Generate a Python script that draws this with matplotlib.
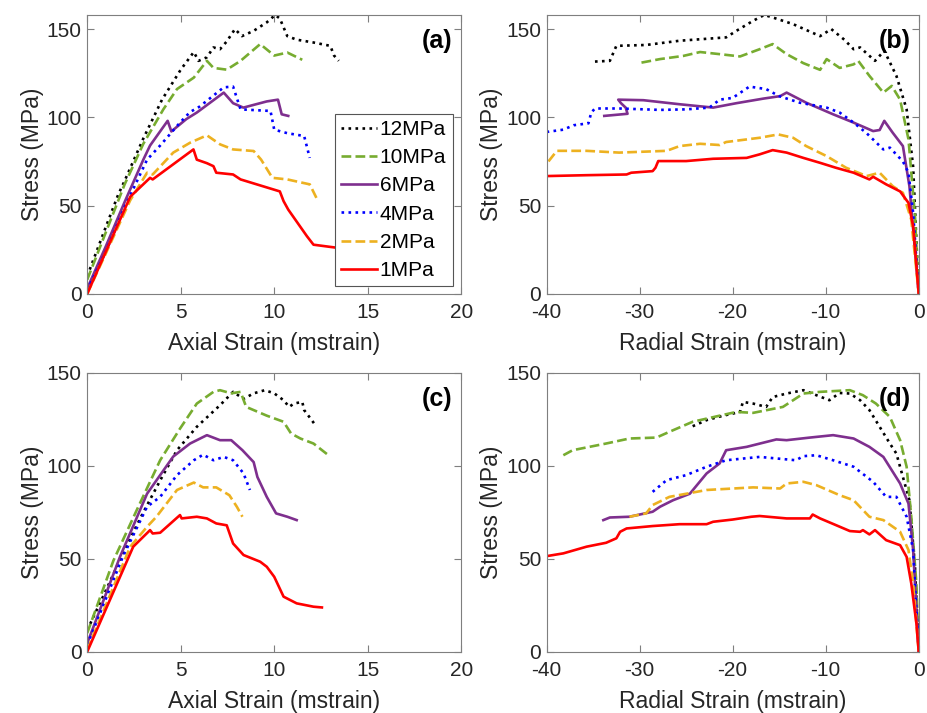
import matplotlib
matplotlib.use('Agg')
import matplotlib.pyplot as plt

plt.rcParams['font.family'] = ['Liberation Sans', 'DejaVu Sans']
plt.rcParams['axes.unicode_minus'] = False

labels = ['12MPa', '10MPa', '6MPa', '4MPa', '2MPa', '1MPa']
colors = ['#000000', '#77AC30', '#7E2F8E', '#0000FF', '#EDB120', '#FF0000']
styles = [':', '--', '-', ':', '--', '-']

# ---- panel (a): axial strain vs stress
a12_x = [0, 1, 1.65, 2, 3, 4, 5, 5.7, 5.95, 6.4, 6.75, 7.1, 7.46, 7.9, 8.27, 8.9, 9.6, 10.05, 10.3, 10.7, 11.2, 12.1, 13.0, 13.2, 13.45]
a12_y = [10, 38, 56, 64, 88, 110, 127, 137, 132, 134, 139.6, 138.6, 143, 150, 146, 149, 153.8, 158, 156, 146, 144, 142.4, 140.5, 135, 132]
a10_x = [0, 1, 2, 3, 4.07, 4.8, 5.7, 6.4, 6.75, 7.46, 8.2, 9.25, 10, 10.7, 11.5]
a10_y = [8, 35, 62, 85, 104.5, 116, 122.5, 132, 128, 127, 132, 141.5, 135, 136.7, 132.6]
a6_x = [0, 1, 2, 3, 3.36, 4.3, 4.5, 5.3, 5.86, 7.3, 7.8, 8.35, 9.6, 10.2, 10.4, 10.75]
a6_y = [3, 27, 52, 76, 84, 98, 92, 99, 102.7, 114, 108, 105.5, 109, 110, 101.7, 100.8]
a4_x = [0, 1, 2, 3.2, 3.9, 4.96, 5.5, 6.0, 7.3, 7.8, 8.2, 9.8, 10, 10.7, 11.6, 11.9]
a4_y = [2, 24, 49, 76, 84, 97, 103, 106, 117, 117.4, 104.5, 103.6, 93, 91, 89.4, 77]
a2_x = [0, 1, 2.3, 3.2, 3.5, 4.6, 5.5, 6.4, 7.1, 7.8, 8.9, 9.3, 9.9, 10.7, 11.9, 12.3]
a2_y = [0, 23, 53, 68.6, 67.6, 80, 85.6, 89.8, 84.7, 81.8, 80.9, 76, 65.7, 64.8, 62, 53.4]
a1_x = [0, 1, 2.3, 3.36, 3.5, 5.68, 5.86, 6.4, 6.75, 6.9, 7.8, 8.2, 10.3, 10.5, 10.75, 11.75, 12.1, 13.4]
a1_y = [0, 24, 55, 65.7, 64.8, 81.8, 76, 74, 72.3, 68.6, 67.6, 64.8, 58, 52.5, 47.7, 32.6, 27.8, 26]

# ---- panel (b): radial strain vs stress
b12_x = [-34.8, -33.2, -32.5, -29.3, -25.7, -20.7, -19.6, -17.8, -16.6, -15.7, -13.5, -10.6, -9.4, -8, -7, -6.3, -4.7, -3.7, -2.4, -1.3, -0.6, 0]
b12_y = [131.6, 132, 140.5, 141, 143.4, 145.3, 149, 154.7, 158, 156.6, 152.8, 146, 150, 144, 138.6, 139.6, 132, 137.7, 123.5, 104.5, 72, 0]
b10_x = [-29.8, -27.8, -25.3, -23.5, -21.4, -19.2, -17.1, -15.7, -14.2, -12.4, -10.6, -9.9, -8.5, -7, -6.5, -5.3, -3.8, -2.9, -2, -1.1, -0.4, 0]
b10_y = [131, 133, 134.8, 137, 135.8, 134.5, 138.6, 141.5, 135.8, 130.7, 126.9, 133, 128, 130, 132, 123.5, 114, 117.8, 110, 87.5, 44, 0]
b6_x = [-33.8, -31.3, -31.5, -32, -32.3, -29.6, -25.7, -22.1, -19.6, -16.7, -14.9, -14.2, -12.1, -9.2, -7, -4.9, -4.2, -3.7, -2.8, -1.7, -1, -0.25, 0]
b6_y = [100.8, 102, 105.5, 108, 110, 109.7, 107.4, 105.5, 108, 110.6, 112, 114, 108.3, 101.7, 97, 92.2, 92.8, 98, 91.3, 83.7, 61, 15.5, 0]
b4_x = [-40, -38.2, -37.1, -35.5, -35.2, -34.8, -32.2, -27.8, -25, -22.5, -21.4, -20, -18.2, -16.4, -15, -12.8, -9.9, -8.5, -7, -5.6, -3.8, -3.1, -1.7, -1.1, -0.6, 0]
b4_y = [91.7, 93, 95.5, 96.6, 102.7, 105, 105, 104.2, 104.5, 105.5, 110, 111, 117.4, 116, 112, 108.3, 105.5, 102.7, 97, 91, 81.8, 82.8, 75, 68.6, 45.8, 0]
b2_x = [-39.8, -38.9, -35.7, -32.2, -27.1, -25.7, -23.5, -21.4, -20.7, -17.1, -15.1, -13.5, -12.1, -9.9, -7.8, -5.6, -4.2, -2.8, -1.7, -0.8, 0]
b2_y = [75, 81, 81, 80, 81, 83.7, 85, 84.3, 86, 88.4, 90.3, 88.4, 83.7, 78, 71.4, 66.7, 68.6, 61, 57.2, 42, 0]
b1_x = [-40, -35.7, -31.4, -30.9, -28.6, -28.3, -28, -25, -22.1, -18.5, -17.1, -15.7, -14.2, -12.4, -10.6, -8.9, -7, -5.3, -4.9, -3.5, -2, -1.1, -0.6, 0]
b1_y = [66.7, 67.2, 67.6, 68.6, 69.5, 71.4, 75.2, 75.2, 76.5, 77, 79, 81.4, 80, 77, 74.2, 71.4, 68.6, 64.8, 66.3, 62, 58, 51.5, 38.3, 0]

# ---- panel (c): axial strain vs stress
c12_x = [0, 1, 2, 3, 4, 4.8, 5.86, 7.1, 7.8, 8.36, 8.9, 9.5, 10, 10.5, 10.8, 11.05, 11.5, 11.6, 11.9, 12.2]
c12_y = [11.6, 33, 55, 75, 94, 108.4, 121, 132.6, 139.8, 136, 139, 140.7, 139, 135.3, 131.7, 133.5, 134.4, 130, 126, 121.9]
c10_x = [0, 1.4, 2.64, 3.9, 4.96, 5.86, 6.75, 7.1, 7.7, 8.2, 8.5, 9.6, 10.5, 10.9, 11.4, 12.1, 12.9]
c10_y = [10, 49, 76, 103, 120, 133.5, 139.8, 140.7, 139, 139.8, 131.7, 127, 123.7, 117.4, 114.7, 112, 105.7]
c6_x = [0, 1.75, 3.2, 4.6, 5.5, 6.4, 7.1, 7.7, 8.3, 8.9, 9.1, 9.6, 10.1, 10.7, 11.2]
c6_y = [4.5, 51, 85, 105, 112, 116.5, 113.8, 113.8, 108.4, 102, 94, 83.3, 74.4, 72.6, 70.8]
c4_x = [0, 1.9, 3.2, 3.9, 4.8, 5.7, 6.2, 6.75, 7.3, 7.8, 8.36, 8.7]
c4_y = [3.6, 51, 78, 83.3, 95, 103, 106, 103, 104.8, 103, 95.9, 87]
c2_x = [0, 2.3, 3.2, 3.7, 4.8, 5.7, 6.2, 6.9, 7.6, 8.0, 8.3]
c2_y = [1, 56.5, 67.2, 72.6, 87, 91, 88.4, 88.4, 84.2, 78, 72.6]
c1_x = [0, 2.46, 3.36, 3.5, 3.9, 4.96, 5.05, 5.86, 6.4, 6.9, 7.46, 7.8, 8.36, 9.25, 9.6, 10, 10.5, 11.2, 12.1, 12.55]
c1_y = [0, 56.5, 65.4, 63.6, 64, 73.5, 71.7, 72.6, 71.7, 69, 68, 58.2, 52, 48.4, 45.7, 40.3, 29.6, 26, 24.2, 23.8]

# ---- panel (d): radial strain vs stress
d12_x = [-24.3, -22.8, -21, -19.2, -18.9, -17.8, -16.4, -15.7, -14.2, -12.4, -11, -9.6, -8.5, -7.4, -6.3, -5.3, -4.2, -3.1, -2.4, -1.7, -1, -0.4, 0]
d12_y = [121.3, 124.6, 127, 129, 134.4, 133.5, 131.7, 137, 138.9, 140.7, 138, 135.3, 139.2, 138.9, 135.3, 130, 121, 112, 106.6, 94, 81.5, 45.7, 0]
d10_x = [-38.2, -37.2, -33.6, -31.1, -28.2, -26.8, -24.3, -22.8, -19.6, -17.8, -14.6, -12.4, -10.6, -7.4, -6, -4.6, -3.1, -2, -1.3, -0.8, -0.25, 0]
d10_y = [105.7, 108.4, 112, 114.7, 115.2, 118.3, 123.7, 125.4, 129, 128.5, 131.7, 138.9, 139.8, 140.7, 138, 133.5, 126.3, 113.8, 99.5, 72.6, 36.7, 0]
d6_x = [-33.9, -33.2, -31.1, -28.6, -27.8, -26.4, -24.6, -22.8, -21.4, -20.7, -18.5, -15.3, -14.2, -11.7, -9.2, -7, -5.3, -3.8, -2, -1.1, -0.6, 0]
d6_y = [70.8, 72.2, 72.6, 75.3, 78, 81.5, 85, 95.9, 101.3, 108.4, 110.2, 114.2, 113.8, 115.2, 116.5, 114.7, 110.2, 104.8, 90.5, 79.7, 54.7, 0]
d4_x = [-28.6, -27.1, -25, -22.8, -20.7, -17.1, -13.2, -12.4, -11, -9.2, -7, -4.9, -3.5, -2.4, -1.3, -0.6, 0]
d4_y = [86, 92.3, 95, 99.5, 103, 104.8, 103, 105.2, 105.7, 103, 99.5, 91.4, 83.3, 83.3, 72.6, 54.7, 0]
d2_x = [-31.1, -29.3, -28.6, -26.8, -22.8, -17.8, -14.9, -14.2, -12.4, -11, -8.5, -7, -5.3, -3.8, -2, -1.1, -0.6, 0]
d2_y = [72.6, 74.4, 78.9, 83.3, 87, 88.4, 87.8, 90.5, 91.4, 89.6, 84.2, 81.5, 72.6, 70.8, 64.5, 54.7, 36.7, 0]
d1_x = [-40, -38.2, -35.7, -33.6, -32.5, -32.1, -31.4, -28.6, -25.7, -22.8, -22.1, -20, -18, -17.1, -14.2, -11.7, -11.4, -10.6, -8.9, -7.4, -6.3, -6, -5.3, -4.7, -3.5, -2, -1.3, -0.8, -0.25, 0]
d1_y = [51.4, 52.9, 56.5, 58.6, 61, 64.5, 66.3, 67.6, 68.6, 68.6, 69.9, 71.1, 72.6, 73, 71.7, 71.7, 73.8, 71.7, 68.1, 64.9, 64.5, 65.4, 63.1, 65.4, 60, 57.3, 51, 36.7, 15.2, 0]

panels = [
    ('(a)', [(a12_x, a12_y), (a10_x, a10_y), (a6_x, a6_y), (a4_x, a4_y), (a2_x, a2_y), (a1_x, a1_y)]),
    ('(b)', [(b12_x, b12_y), (b10_x, b10_y), (b6_x, b6_y), (b4_x, b4_y), (b2_x, b2_y), (b1_x, b1_y)]),
    ('(c)', [(c12_x, c12_y), (c10_x, c10_y), (c6_x, c6_y), (c4_x, c4_y), (c2_x, c2_y), (c1_x, c1_y)]),
    ('(d)', [(d12_x, d12_y), (d10_x, d10_y), (d6_x, d6_y), (d4_x, d4_y), (d2_x, d2_y), (d1_x, d1_y)]),
]

fig = plt.figure(figsize=(9.28, 7.13), dpi=100)
# axes rectangles [left, bottom, width, height] in figure fractions
rects = [
    [0.094, 0.588, 0.403, 0.391],
    [0.589, 0.588, 0.401, 0.391],
    [0.094, 0.086, 0.403, 0.391],
    [0.589, 0.086, 0.401, 0.391],
]
text_col = '#262626'
spine_col = '#7f7f7f'

for i, (tag, series) in enumerate(panels):
    ax = fig.add_axes(rects[i])
    for (xs, ys), lab, c, ls in zip(series, labels, colors, styles):
        ax.plot(xs, ys, ls=ls, color=c, lw=1.9, label=lab)

    axial = i % 2 == 0
    if axial:
        ax.set_xlim(0, 20)
        ax.set_xticks([0, 5, 10, 15, 20])
        ax.set_xlabel('Axial Strain (mstrain)', fontsize=16.5, color=text_col, labelpad=7)
    else:
        ax.set_xlim(-40, 0)
        ax.set_xticks([-40, -30, -20, -10, 0])
        ax.set_xlabel('Radial Strain (mstrain)', fontsize=16.5, color=text_col, labelpad=7)
    if i < 2:
        ax.set_ylim(0, 158)
    else:
        ax.set_ylim(0, 150)
    ax.set_yticks([0, 50, 100, 150])
    ax.set_ylabel('Stress (MPa)', fontsize=16.5, color=text_col, labelpad=2)

    ax.tick_params(direction='in', top=True, right=True, length=5, width=0.8,
                   labelsize=15, colors=spine_col, labelcolor=text_col)
    ax.tick_params(axis='x', pad=7)
    ax.tick_params(axis='y', pad=4)
    for s in ax.spines.values():
        s.set_color(spine_col)
        s.set_linewidth(0.8)

    ax.text(0.935, 0.905, tag, transform=ax.transAxes, fontsize=18,
            fontweight='bold', ha='center', va='center', color='black')

    if i == 0:
        leg = ax.legend(loc='lower right', bbox_to_anchor=(0.977, 0.027),
                        fontsize=15, handlelength=1.7, handletextpad=0.15,
                        borderpad=0.3, labelspacing=0.44, borderaxespad=0,
                        fancybox=False, framealpha=1)
        leg.get_frame().set_edgecolor('#555555')
        leg.get_frame().set_linewidth(0.8)

fig.savefig('out.png', dpi=100)
